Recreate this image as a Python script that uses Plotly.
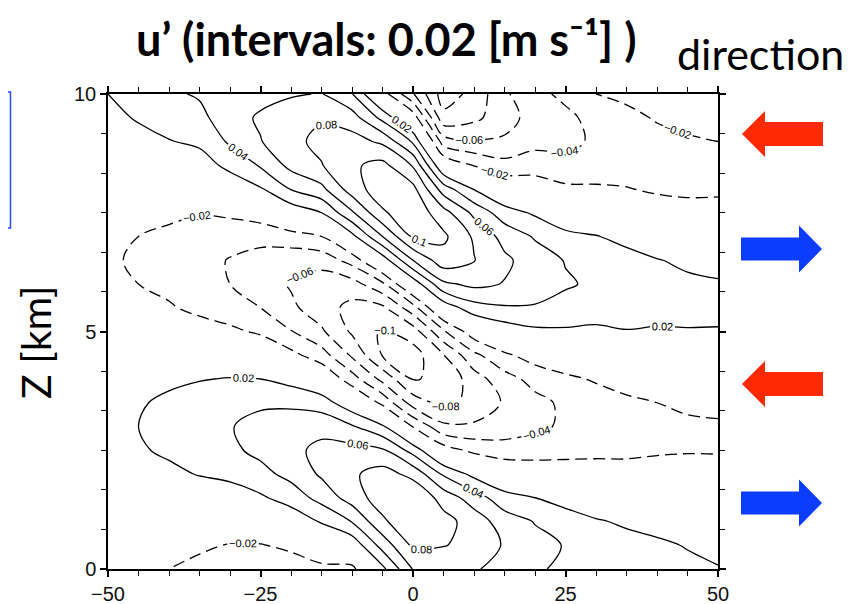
import numpy as np
import plotly.graph_objects as go

# ---------------- data ----------------
x_km = [-50, -45, -40, -35, -30, -25, -20, -15, -10, -5, 0, 5, 10, 15, 20, 25, 30, 35, 40, 45, 50]
z_km = [0, 0.5, 1, 1.5, 2, 2.5, 3, 3.5, 4, 4.5, 5, 5.5, 6, 6.5, 7, 7.5, 8, 8.5, 9, 9.5, 10]

# u' [m s-1] along each x column, from z = 0 (first) to z = 10 km (last)
u_xm50 = [-0.011, -0.007, -0.002, 0.003, 0.008, 0.012, 0.014, 0.013, 0.009, 0.002, -0.005, -0.012, -0.016, -0.018, -0.017, -0.013, -0.008, -0.001, 0.006, 0.014, 0.020]
u_xm45 = [-0.014, -0.009, -0.002, 0.005, 0.013, 0.018, 0.020, 0.018, 0.013, 0.004, -0.006, -0.014, -0.020, -0.022, -0.020, -0.014, -0.006, 0.003, 0.013, 0.022, 0.030]
u_xm40 = [-0.020, -0.013, -0.004, 0.007, 0.016, 0.023, 0.026, 0.024, 0.016, 0.005, -0.007, -0.018, -0.025, -0.027, -0.024, -0.016, -0.006, 0.007, 0.019, 0.029, 0.037]
u_xm35 = [-0.025, -0.017, -0.005, 0.009, 0.021, 0.030, 0.033, 0.029, 0.019, 0.004, -0.011, -0.025, -0.033, -0.034, -0.028, -0.019, -0.005, 0.010, 0.024, 0.035, 0.042]
u_xm30 = [-0.030, -0.021, -0.007, 0.010, 0.025, 0.036, 0.039, 0.034, 0.021, 0.003, -0.016, -0.031, -0.040, -0.041, -0.033, -0.016, 0.005, 0.026, 0.043, 0.051, 0.050]
u_xm25 = [-0.031, -0.021, -0.003, 0.017, 0.034, 0.045, 0.046, 0.037, 0.020, -0.002, -0.023, -0.040, -0.049, -0.048, -0.033, -0.010, 0.018, 0.042, 0.059, 0.063, 0.053]
u_xm20 = [-0.030, -0.016, 0.006, 0.029, 0.046, 0.055, 0.051, 0.036, 0.013, -0.014, -0.039, -0.056, -0.062, -0.053, -0.028, 0.007, 0.041, 0.066, 0.075, 0.071, 0.058]
u_xm15 = [-0.025, -0.004, 0.022, 0.047, 0.063, 0.065, 0.054, 0.030, 0.000, -0.031, -0.057, -0.071, -0.071, -0.052, -0.020, 0.020, 0.055, 0.079, 0.085, 0.078, 0.061]
u_xm10 = [-0.025, 0.006, 0.041, 0.069, 0.077, 0.067, 0.042, 0.006, -0.031, -0.063, -0.083, -0.086, -0.068, -0.032, 0.014, 0.057, 0.090, 0.097, 0.088, 0.069, 0.041]
u_xm05 = [0.015, 0.048, 0.076, 0.091, 0.088, 0.063, 0.023, -0.025, -0.066, -0.101, -0.103, -0.084, -0.044, 0.009, 0.060, 0.097, 0.112, 0.106, 0.076, 0.034, -0.011]
u_x00 = [0.061, 0.084, 0.098, 0.098, 0.074, 0.032, -0.021, -0.069, -0.101, -0.109, -0.090, -0.048, 0.007, 0.060, 0.103, 0.114, 0.106, 0.078, 0.037, -0.008, -0.058]
u_xp05 = [0.062, 0.081, 0.087, 0.072, 0.037, -0.010, -0.055, -0.087, -0.097, -0.081, -0.043, 0.007, 0.056, 0.092, 0.104, 0.088, 0.050, 0.000, -0.050, -0.094, -0.110]
u_xp10 = [0.062, 0.074, 0.071, 0.050, 0.014, -0.025, -0.057, -0.073, -0.069, -0.045, -0.008, 0.032, 0.065, 0.081, 0.077, 0.055, 0.019, -0.021, -0.058, -0.085, -0.094]
u_xp15 = [0.053, 0.058, 0.050, 0.028, -0.002, -0.031, -0.051, -0.058, -0.048, -0.024, 0.008, 0.038, 0.059, 0.064, 0.053, 0.029, -0.002, -0.033, -0.057, -0.068, -0.063]
u_xp20 = [0.042, 0.046, 0.039, 0.020, -0.006, -0.030, -0.044, -0.046, -0.033, -0.011, 0.016, 0.038, 0.051, 0.050, 0.038, 0.017, -0.007, -0.030, -0.046, -0.052, -0.046]
u_xp25 = [0.037, 0.039, 0.030, 0.012, -0.009, -0.027, -0.037, -0.036, -0.024, -0.005, 0.017, 0.034, 0.042, 0.039, 0.025, 0.006, -0.016, -0.034, -0.045, -0.045, -0.035]
u_xp30 = [0.033, 0.032, 0.022, 0.006, -0.011, -0.025, -0.032, -0.029, -0.018, -0.001, 0.016, 0.030, 0.037, 0.034, 0.021, 0.002, -0.017, -0.032, -0.037, -0.033, -0.020]
u_xp35 = [0.030, 0.027, 0.017, 0.003, -0.013, -0.024, -0.028, -0.024, -0.012, 0.003, 0.019, 0.030, 0.033, 0.027, 0.014, -0.003, -0.019, -0.030, -0.032, -0.026, -0.015]
u_xp40 = [0.027, 0.023, 0.014, 0.000, -0.013, -0.022, -0.025, -0.020, -0.009, 0.005, 0.018, 0.027, 0.029, 0.021, 0.007, -0.009, -0.023, -0.029, -0.027, -0.018, -0.005]
u_xp45 = [0.024, 0.019, 0.009, -0.003, -0.014, -0.021, -0.023, -0.017, -0.006, 0.007, 0.019, 0.025, 0.024, 0.016, 0.002, -0.013, -0.024, -0.027, -0.023, -0.013, 0.000]
u_xp50 = [0.021, 0.015, 0.006, -0.005, -0.015, -0.021, -0.022, -0.016, -0.005, 0.008, 0.019, 0.024, 0.022, 0.013, -0.001, -0.014, -0.023, -0.025, -0.020, -0.010, 0.003]

x_tick_vals = [-50, -25, 0, 25, 50]
z_tick_vals = [0, 5, 10]

columns = [u_xm50, u_xm45, u_xm40, u_xm35, u_xm30, u_xm25, u_xm20, u_xm15, u_xm10, u_xm05,
           u_x00, u_xp05, u_xp10, u_xp15, u_xp20, u_xp25, u_xp30, u_xp35, u_xp40, u_xp45, u_xp50]
u_grid = np.array(columns).T  # rows = heights, cols = x

# ---------------- layout geometry (pixels of the 852x604 page) ----------------
PAGE_W, PAGE_H = 852, 604
BODY = 8                      # default page margin of the html body
L, R, T, B = 108, 718, 94, 569  # plot area on the page
FIG_W, FIG_H = PAGE_W - BODY, PAGE_H - BODY


def px(xp):
    return (xp - L) / (R - L)


def py(yp):
    return (B - yp) / (B - T)


fig = go.Figure()

label_font = dict(family="Liberation Sans", size=11, color="black")

fig.add_trace(go.Contour(
    x=x_km, y=z_km, z=u_grid,
    autocontour=False,
    contours=dict(start=0.02, end=0.101, size=0.02, coloring="none",
                  showlabels=True, labelfont=label_font, labelformat=".2~f"),
    line=dict(color="black", width=1.3, smoothing=1),
    showscale=False, hoverinfo="skip",
))
fig.add_trace(go.Contour(
    x=x_km, y=z_km, z=u_grid,
    autocontour=False,
    contours=dict(start=-0.1, end=-0.019, size=0.02, coloring="none",
                  showlabels=True, labelfont=label_font, labelformat=".2~f"),
    line=dict(color="black", width=1.3, dash="12px,6px", smoothing=1),
    showscale=False, hoverinfo="skip",
))

tick_font = dict(family="Liberation Sans", size=20, color="#111111")
fig.update_xaxes(
    range=[-50, 50], tickvals=x_tick_vals, ticks="outside", ticklen=6, tickwidth=1.5,
    tickcolor="black", showline=True, linecolor="black", linewidth=1.5, mirror="ticks",
    showgrid=False, zeroline=False, tickfont=tick_font, automargin=False,
    minor=dict(dtick=5, tick0=-50, ticks="outside", ticklen=5, tickwidth=1.3, tickcolor="black"),
)
fig.update_yaxes(
    range=[0, 10], tickvals=z_tick_vals, ticks="outside", ticklen=6, tickwidth=1.5,
    tickcolor="black", showline=True, linecolor="black", linewidth=1.5, mirror="ticks",
    showgrid=False, zeroline=False, tickfont=tick_font, automargin=False,
    minor=dict(dtick=10 / 12, tick0=0, ticks="outside", ticklen=5, tickwidth=1.3, tickcolor="black"),
)


def arrow_path(tip_x, head_x, end_x, cy, body_h, head_h):
    pts = [(tip_x, cy), (head_x, cy - head_h), (head_x, cy - body_h), (end_x, cy - body_h),
           (end_x, cy + body_h), (head_x, cy + body_h), (head_x, cy + head_h)]
    return "M " + " L ".join(f"{px(a):.5f},{py(b):.5f}" for a, b in pts) + " Z"


red = "#ff2a04"
blue = "#0c3cfd"
shapes = []
for cy in (134, 384):
    shapes.append(dict(type="path", xref="paper", yref="paper",
                       path=arrow_path(742, 765, 823, cy, 12, 23),
                       fillcolor=red, line=dict(width=0)))
for cy in (249, 503):
    shapes.append(dict(type="path", xref="paper", yref="paper",
                       path=arrow_path(822, 799, 741, cy, 11.5, 23.5),
                       fillcolor=blue, line=dict(width=0)))
shapes.append(dict(type="path", xref="paper", yref="paper",
                   path=f"M {px(0):.5f},{py(92):.5f} L {px(10.5):.5f},{py(92):.5f} "
                        f"L {px(10.5):.5f},{py(228):.5f} L {px(0):.5f},{py(228):.5f}",
                   line=dict(color="#2448ff", width=1.5)))

annotations = [
    dict(text="<b>u’ (intervals: 0.02 [m s⁻¹] )</b>", x=px(386), y=py(39),
         xref="paper", yref="paper", showarrow=False, xanchor="center", yanchor="middle",
         font=dict(family="Lato", size=45, color="black")),
    dict(text="direction", x=px(760), y=py(54), xref="paper", yref="paper", showarrow=False,
         xanchor="center", yanchor="middle", font=dict(family="Lato", size=43, color="black")),
    dict(text="Z [km]", x=px(35), y=py(342), xref="paper", yref="paper", showarrow=False,
         textangle=-90, xanchor="center", yanchor="middle",
         font=dict(family="Lato", size=41, color="black")),
]

fig.update_layout(
    width=FIG_W, height=FIG_H, autosize=False,
    margin=dict(l=L - BODY, r=FIG_W - (R - BODY), t=T - BODY, b=FIG_H - (B - BODY), pad=0),
    paper_bgcolor="white", plot_bgcolor="white",
    showlegend=False, shapes=shapes, annotations=annotations,
)

fig.write_html("out.html")
